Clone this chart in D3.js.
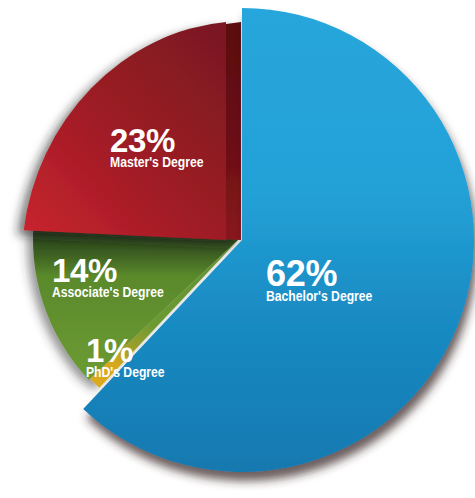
<!DOCTYPE html>
<html><head><meta charset="utf-8">
<script src="https://cdn.jsdelivr.net/npm/d3@7"></script>
<style>body{margin:0;background:#fff;overflow:hidden}</style>
</head><body>
<svg id="c" width="475" height="498"></svg>
<script>
const categories = ["Bachelor's Degree", "PhD's Degree", "Associate's Degree", "Master's Degree"];
const values = [62, 1, 14, 23];
const percentLabels = ["62%", "1%", "14%", "23%"];

// layout (not data)
const layout = {
  "Bachelor's Degree": {cx: 242, cy: 240, r: 232, sx: 1, skew: 0, fill: "gBlue", group: "top", lx: 266, ly: 286, order: 4},
  "PhD's Degree":      {cx: 239, cy: 239, r: 204, sx: 1, skew: 0, fill: "gYellow", group: "low", lx: 86, ly: 362, order: 1},
  "Associate's Degree":{cx: 239, cy: 239, r: 206, sx: 1, skew: 0, fill: "gGreen", group: "low", lx: 52, ly: 282, order: 0},
  "Master's Degree":   {cx: 226, cy: 240, r: 218, sx: 0.935, skew: -5, fill: "gRed", group: "mid", lx: 110, ly: 152, order: 3, side: 15}
};

const svg = d3.select("#c");
const defs = svg.append("defs");

function lin(id, c, x1, y1, x2, y2, stops) {
  const sx = c.sx || 1;
  const g = defs.append("linearGradient").attr("id", id)
    .attr("gradientUnits", "userSpaceOnUse")
    .attr("x1", (x1 - c.cx) / sx).attr("y1", y1 - c.cy).attr("x2", (x2 - c.cx) / sx).attr("y2", y2 - c.cy);
  stops.forEach(s => g.append("stop").attr("offset", s[0]).attr("stop-color", s[1]));
}
const Lb = layout["Bachelor's Degree"], Lr = layout["Master's Degree"], Lg = layout["Associate's Degree"], Ly = layout["PhD's Degree"];
lin("gBlue", Lb, 0, 8, 0, 472, [[0, "#27a6dc"], [0.4, "#23a1d7"], [0.65, "#1a8cc4"], [1, "#1279b0"]]);
lin("gRed", Lr, 40, 235, 225, 50, [[0, "#c8232e"], [0.5, "#9e1c25"], [1, "#7b1920"]]);
lin("gRedSide", {cx: Lr.cx + Lr.side, cy: Lr.cy, sx: Lr.sx}, 230, 20, 245, 240, [[0, "#5a0b0f"], [0.6, "#6e1016"], [1, "#8a161d"]]);
lin("gGreen", Lg, 0, 226, 0, 392, [[0, "#1f3616"], [0.08, "#2c481c"], [0.18, "#3f6322"], [0.3, "#5a892c"], [1, "#6f9e33"]]);
const ry = defs.append("radialGradient").attr("id", "gYellow").attr("gradientUnits", "userSpaceOnUse")
  .attr("cx", 0).attr("cy", 0).attr("r", Ly.r);
[[0, "#5f8f2e"], [0.6, "#6c9a33"], [0.78, "#a8a02a"], [0.86, "#d6a81e"], [1, "#dcaa1c"]]
  .forEach(s => ry.append("stop").attr("offset", s[0]).attr("stop-color", s[1]));

function shadow(id, dx, dy, sd, op, color) {
  const f = defs.append("filter").attr("id", id)
    .attr("x", "-20%").attr("y", "-20%").attr("width", "140%").attr("height", "140%");
  f.append("feDropShadow").attr("dx", dx).attr("dy", dy).attr("stdDeviation", sd)
    .attr("flood-color", color).attr("flood-opacity", op);
}
shadow("shBlue", 3, 9, 5, 0.75, "#3b2727");
shadow("shLow", -6, 3, 5, 0.5, "#333");
shadow("shRed", -7, 5, 5, 0.55, "#222");

const groups = {
  low: svg.append("g").attr("filter", "url(#shLow)"),
  mid: svg.append("g").attr("filter", "url(#shRed)"),
  top: svg.append("g").attr("filter", "url(#shBlue)")
};

const pie = d3.pie().sort(null).value(d => d.value).startAngle(0).endAngle(2 * Math.PI);
const data = categories.map((c, i) => ({cat: c, value: values[i], pct: percentLabels[i]}));
const arcs = pie(data);

const drawOrder = arcs.slice().sort((a, b) => layout[a.data.cat].order - layout[b.data.cat].order);

drawOrder.forEach(a => {
  const L = layout[a.data.cat];
  const g = groups[L.group];
  const arc = d3.arc().innerRadius(0).outerRadius(L.r);
  if (L.side) {
    g.append("path").attr("d", arc(a))
      .attr("transform", `translate(${L.cx + L.side},${L.cy}) skewY(${L.skew}) scale(${L.sx},1)`)
      .attr("fill", "url(#gRedSide)");
  }
  g.append("path").attr("d", arc(a))
    .attr("transform", `translate(${L.cx},${L.cy}) skewY(${L.skew}) scale(${L.sx},1)`)
    .attr("fill", `url(#${L.fill})`);
});

const tg = svg.append("g").attr("fill", "#fff").attr("font-family", "'Liberation Sans', Arial, sans-serif").attr("font-weight", "bold");
arcs.forEach(a => {
  const L = layout[a.data.cat];
  tg.append("text").attr("x", L.lx).attr("y", L.ly)
    .attr("font-size", a.data.value > 50 ? 36 : 33)
    .attr("letter-spacing", -0.3)
    .text(a.data.pct);
  tg.append("text").attr("x", L.lx).attr("y", L.ly + 15)
    .attr("font-size", 14)
    .attr("transform", `translate(${L.lx},0) scale(0.87,1) translate(${-L.lx},0)`)
    .text(a.data.cat);
});
</script>
</body></html>
